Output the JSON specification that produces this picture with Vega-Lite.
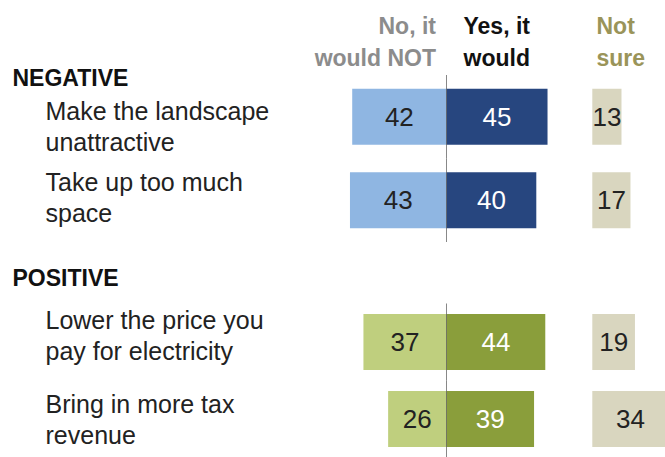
{
  "$schema": "https://vega.github.io/schema/vega-lite/v6.json",
  "width": 665,
  "height": 457,
  "autosize": {"type": "none"},
  "padding": 0,
  "background": "white",
  "config": {"view": {"stroke": null}, "font": "Liberation Sans"},
  "data": {
    "values": [
      {"group": "NEGATIVE", "item": "Make the landscape\nunattractive", "response": "No", "value": 42},
      {"group": "NEGATIVE", "item": "Make the landscape\nunattractive", "response": "Yes", "value": 45},
      {"group": "NEGATIVE", "item": "Make the landscape\nunattractive", "response": "Not sure", "value": 13},
      {"group": "NEGATIVE", "item": "Take up too much\nspace", "response": "No", "value": 43},
      {"group": "NEGATIVE", "item": "Take up too much\nspace", "response": "Yes", "value": 40},
      {"group": "NEGATIVE", "item": "Take up too much\nspace", "response": "Not sure", "value": 17},
      {"group": "POSITIVE", "item": "Lower the price you\npay for electricity", "response": "No", "value": 37},
      {"group": "POSITIVE", "item": "Lower the price you\npay for electricity", "response": "Yes", "value": 44},
      {"group": "POSITIVE", "item": "Lower the price you\npay for electricity", "response": "Not sure", "value": 19},
      {"group": "POSITIVE", "item": "Bring in more tax\nrevenue", "response": "No", "value": 26},
      {"group": "POSITIVE", "item": "Bring in more tax\nrevenue", "response": "Yes", "value": 39},
      {"group": "POSITIVE", "item": "Bring in more tax\nrevenue", "response": "Not sure", "value": 34}
    ]
  },
  "resolve": {"scale": {"x": "independent", "y": "independent"}, "axis": {"x": "independent", "y": "independent"}},
  "layer": [
    {
      "transform": [{"filter": "datum.group == 'NEGATIVE'"}],
      "resolve": {"scale": {"x": "independent"}, "axis": {"x": "independent"}},
      "layer": [
        {
          "transform": [{"filter": "datum.response == 'No'"}],
          "mark": {"type": "bar", "color": "#8fb6e2"},
          "encoding": {
            "y": {"field": "item", "type": "nominal", "sort": null,
              "scale": {"range": [75, 242], "paddingInner": 0.33, "paddingOuter": 0.165},
              "axis": {"orient": "left", "domain": false, "ticks": false, "tickSize": 0, "grid": false,
                "labelAlign": "left", "labelBaseline": "middle", "labelPadding": -45, "labelLimit": 0,
                "labelOverlap": false, "labelBound": false, "labelFlush": false,
                "labelOffset": {"condition": {"test": "indexof(datum.value, 'Make') === 0", "value": -5}, "value": -17},
                "labelFont": "Liberation Sans", "labelFontSize": 25, "labelColor": "#222222", "labelLineHeight": 31,
                "labelExpr": "split(datum.label, '\\n')",
                "title": "NEGATIVE", "titleAngle": 0, "titleAlign": "left", "titleBaseline": "alphabetic",
                "titleX": 12, "titleY": 85, "titleFont": "Liberation Sans", "titleFontWeight": "bold",
                "titleFontSize": 23, "titleColor": "#111111", "titleLimit": 0}},
            "x": {"field": "value", "type": "quantitative",
              "scale": {"domain": [0, 100], "range": [446.5, 222], "nice": false},
              "axis": {"orient": "top", "values": [0], "labelExpr": "['No, it', 'would NOT']",
                "domain": false, "ticks": false, "tickSize": 0, "grid": false, "labelPadding": 0, "offset": -33,
                "labelAlign": "right", "labelBaseline": "alphabetic", "labelOffset": -11,
                "labelFont": "Liberation Sans", "labelFontWeight": "bold", "labelFontSize": 23,
                "labelColor": "#8c8c8c", "labelLineHeight": 32, "labelFlush": false, "labelOverlap": false,
                "labelBound": false, "labelLimit": 0, "title": null}}
          }
        },
        {
          "transform": [{"filter": "datum.response == 'Yes'"}],
          "mark": {"type": "bar", "color": "#27467f"},
          "encoding": {
            "y": {"field": "item", "type": "nominal", "sort": null,
              "scale": {"range": [75, 242], "paddingInner": 0.33, "paddingOuter": 0.165}},
            "x": {"field": "value", "type": "quantitative",
              "scale": {"domain": [0, 100], "range": [446.5, 671], "nice": false},
              "axis": {"orient": "top", "values": [0], "labelExpr": "['Yes, it', 'would']",
                "domain": false, "ticks": false, "tickSize": 0, "grid": false, "labelPadding": 0, "offset": -33,
                "labelAlign": "left", "labelBaseline": "alphabetic", "labelOffset": 16.5,
                "labelFont": "Liberation Sans", "labelFontWeight": "bold", "labelFontSize": 23,
                "labelColor": "#111111", "labelLineHeight": 32, "labelFlush": false, "labelOverlap": false,
                "labelBound": false, "labelLimit": 0, "title": null}}
          }
        },
        {
          "transform": [{"filter": "datum.response == 'Not sure'"}],
          "mark": {"type": "bar", "color": "#d9d6bf"},
          "encoding": {
            "y": {"field": "item", "type": "nominal", "sort": null,
              "scale": {"range": [75, 242], "paddingInner": 0.33, "paddingOuter": 0.165}},
            "x": {"field": "value", "type": "quantitative",
              "scale": {"domain": [0, 100], "range": [592.3, 816.8], "nice": false},
              "axis": {"orient": "top", "values": [0], "labelExpr": "['Not', 'sure']",
                "domain": false, "ticks": false, "tickSize": 0, "grid": false, "labelPadding": 0, "offset": -33,
                "labelAlign": "left", "labelBaseline": "alphabetic", "labelOffset": 3.7,
                "labelFont": "Liberation Sans", "labelFontWeight": "bold", "labelFontSize": 23,
                "labelColor": "#9a9459", "labelLineHeight": 32, "labelFlush": false, "labelOverlap": false,
                "labelBound": false, "labelLimit": 0, "title": null}}
          }
        },
        {
          "transform": [{"filter": "datum.response == 'Yes'"}],
          "mark": {"type": "tick", "color": "#555555", "thickness": 1, "size": 83.5},
          "encoding": {
            "y": {"field": "item", "type": "nominal", "sort": null,
              "scale": {"range": [75, 242], "paddingInner": 0.33, "paddingOuter": 0.165}},
            "x": {"datum": 0, "type": "quantitative",
              "scale": {"domain": [0, 100], "range": [446.5, 671], "nice": false}, "axis": null}
          }
        },
        {
          "transform": [{"filter": "datum.response == 'No'"}],
          "mark": {"type": "text", "color": "#222222", "fontSize": 26, "font": "Liberation Sans", "baseline": "middle", "dy": 1},
          "encoding": {
            "y": {"field": "item", "type": "nominal", "sort": null,
              "scale": {"range": [75, 242], "paddingInner": 0.33, "paddingOuter": 0.165}},
            "x": {"field": "value", "type": "quantitative",
              "scale": {"domain": [0, 100], "range": [446.5, 334.25], "nice": false}, "axis": null},
            "text": {"field": "value", "type": "quantitative"}
          }
        },
        {
          "transform": [{"filter": "datum.response == 'Yes'"}],
          "mark": {"type": "text", "color": "#ffffff", "fontSize": 26, "font": "Liberation Sans", "baseline": "middle", "dy": 1},
          "encoding": {
            "y": {"field": "item", "type": "nominal", "sort": null,
              "scale": {"range": [75, 242], "paddingInner": 0.33, "paddingOuter": 0.165}},
            "x": {"field": "value", "type": "quantitative",
              "scale": {"domain": [0, 100], "range": [446.5, 558.75], "nice": false}, "axis": null},
            "text": {"field": "value", "type": "quantitative"}
          }
        },
        {
          "transform": [{"filter": "datum.response == 'Not sure'"}],
          "mark": {"type": "text", "color": "#222222", "fontSize": 26, "font": "Liberation Sans", "baseline": "middle", "dy": 1},
          "encoding": {
            "y": {"field": "item", "type": "nominal", "sort": null,
              "scale": {"range": [75, 242], "paddingInner": 0.33, "paddingOuter": 0.165}},
            "x": {"field": "value", "type": "quantitative",
              "scale": {"domain": [0, 100], "range": [592.3, 704.55], "nice": false}, "axis": null},
            "text": {"field": "value", "type": "quantitative"}
          }
        }
      ]
    },
    {
      "transform": [{"filter": "datum.group == 'POSITIVE'"}],
      "resolve": {"scale": {"x": "independent"}, "axis": {"x": "independent"}},
      "layer": [
        {
          "transform": [{"filter": "datum.response == 'No'"}],
          "mark": {"type": "bar", "color": "#bfcf7e"},
          "encoding": {
            "y": {"field": "item", "type": "nominal", "sort": null,
              "scale": {"range": [303.5, 457.5], "paddingInner": 0.273, "paddingOuter": 0.1365},
              "axis": {"orient": "left", "domain": false, "ticks": false, "tickSize": 0, "grid": false,
                "labelAlign": "left", "labelBaseline": "middle", "labelPadding": -45, "labelLimit": 0,
                "labelOverlap": false, "labelBound": false, "labelFlush": false,
                "labelOffset": {"condition": {"test": "indexof(datum.value, 'Lower') === 0", "value": -21}, "value": -14},
                "labelFont": "Liberation Sans", "labelFontSize": 25, "labelColor": "#222222", "labelLineHeight": 31,
                "labelExpr": "split(datum.label, '\\n')",
                "title": "POSITIVE", "titleAngle": 0, "titleAlign": "left", "titleBaseline": "alphabetic",
                "titleX": 12, "titleY": 285, "titleFont": "Liberation Sans", "titleFontWeight": "bold",
                "titleFontSize": 23, "titleColor": "#111111", "titleLimit": 0}},
            "x": {"field": "value", "type": "quantitative",
              "scale": {"domain": [0, 100], "range": [446.5, 222], "nice": false}, "axis": null}
          }
        },
        {
          "transform": [{"filter": "datum.response == 'Yes'"}],
          "mark": {"type": "bar", "color": "#8a9e3b"},
          "encoding": {
            "y": {"field": "item", "type": "nominal", "sort": null,
              "scale": {"range": [303.5, 457.5], "paddingInner": 0.273, "paddingOuter": 0.1365}},
            "x": {"field": "value", "type": "quantitative",
              "scale": {"domain": [0, 100], "range": [446.5, 671], "nice": false}, "axis": null}
          }
        },
        {
          "transform": [{"filter": "datum.response == 'Not sure'"}],
          "mark": {"type": "bar", "color": "#d9d6bf"},
          "encoding": {
            "y": {"field": "item", "type": "nominal", "sort": null,
              "scale": {"range": [303.5, 457.5], "paddingInner": 0.273, "paddingOuter": 0.1365}},
            "x": {"field": "value", "type": "quantitative",
              "scale": {"domain": [0, 100], "range": [592.3, 816.8], "nice": false}, "axis": null}
          }
        },
        {
          "transform": [{"filter": "datum.response == 'Yes'"}],
          "mark": {"type": "tick", "color": "#555555", "thickness": 1, "size": 77},
          "encoding": {
            "y": {"field": "item", "type": "nominal", "sort": null,
              "scale": {"range": [303.5, 457.5], "paddingInner": 0.273, "paddingOuter": 0.1365}},
            "x": {"datum": 0, "type": "quantitative",
              "scale": {"domain": [0, 100], "range": [446.5, 671], "nice": false}, "axis": null}
          }
        },
        {
          "transform": [{"filter": "datum.response == 'No'"}],
          "mark": {"type": "text", "color": "#222222", "fontSize": 26, "font": "Liberation Sans", "baseline": "middle", "dy": 1},
          "encoding": {
            "y": {"field": "item", "type": "nominal", "sort": null,
              "scale": {"range": [303.5, 457.5], "paddingInner": 0.273, "paddingOuter": 0.1365}},
            "x": {"field": "value", "type": "quantitative",
              "scale": {"domain": [0, 100], "range": [446.5, 334.25], "nice": false}, "axis": null},
            "text": {"field": "value", "type": "quantitative"}
          }
        },
        {
          "transform": [{"filter": "datum.response == 'Yes'"}],
          "mark": {"type": "text", "color": "#ffffff", "fontSize": 26, "font": "Liberation Sans", "baseline": "middle", "dy": 1},
          "encoding": {
            "y": {"field": "item", "type": "nominal", "sort": null,
              "scale": {"range": [303.5, 457.5], "paddingInner": 0.273, "paddingOuter": 0.1365}},
            "x": {"field": "value", "type": "quantitative",
              "scale": {"domain": [0, 100], "range": [446.5, 558.75], "nice": false}, "axis": null},
            "text": {"field": "value", "type": "quantitative"}
          }
        },
        {
          "transform": [{"filter": "datum.response == 'Not sure'"}],
          "mark": {"type": "text", "color": "#222222", "fontSize": 26, "font": "Liberation Sans", "baseline": "middle", "dy": 1},
          "encoding": {
            "y": {"field": "item", "type": "nominal", "sort": null,
              "scale": {"range": [303.5, 457.5], "paddingInner": 0.273, "paddingOuter": 0.1365}},
            "x": {"field": "value", "type": "quantitative",
              "scale": {"domain": [0, 100], "range": [592.3, 704.55], "nice": false}, "axis": null},
            "text": {"field": "value", "type": "quantitative"}
          }
        }
      ]
    }
  ]
}
